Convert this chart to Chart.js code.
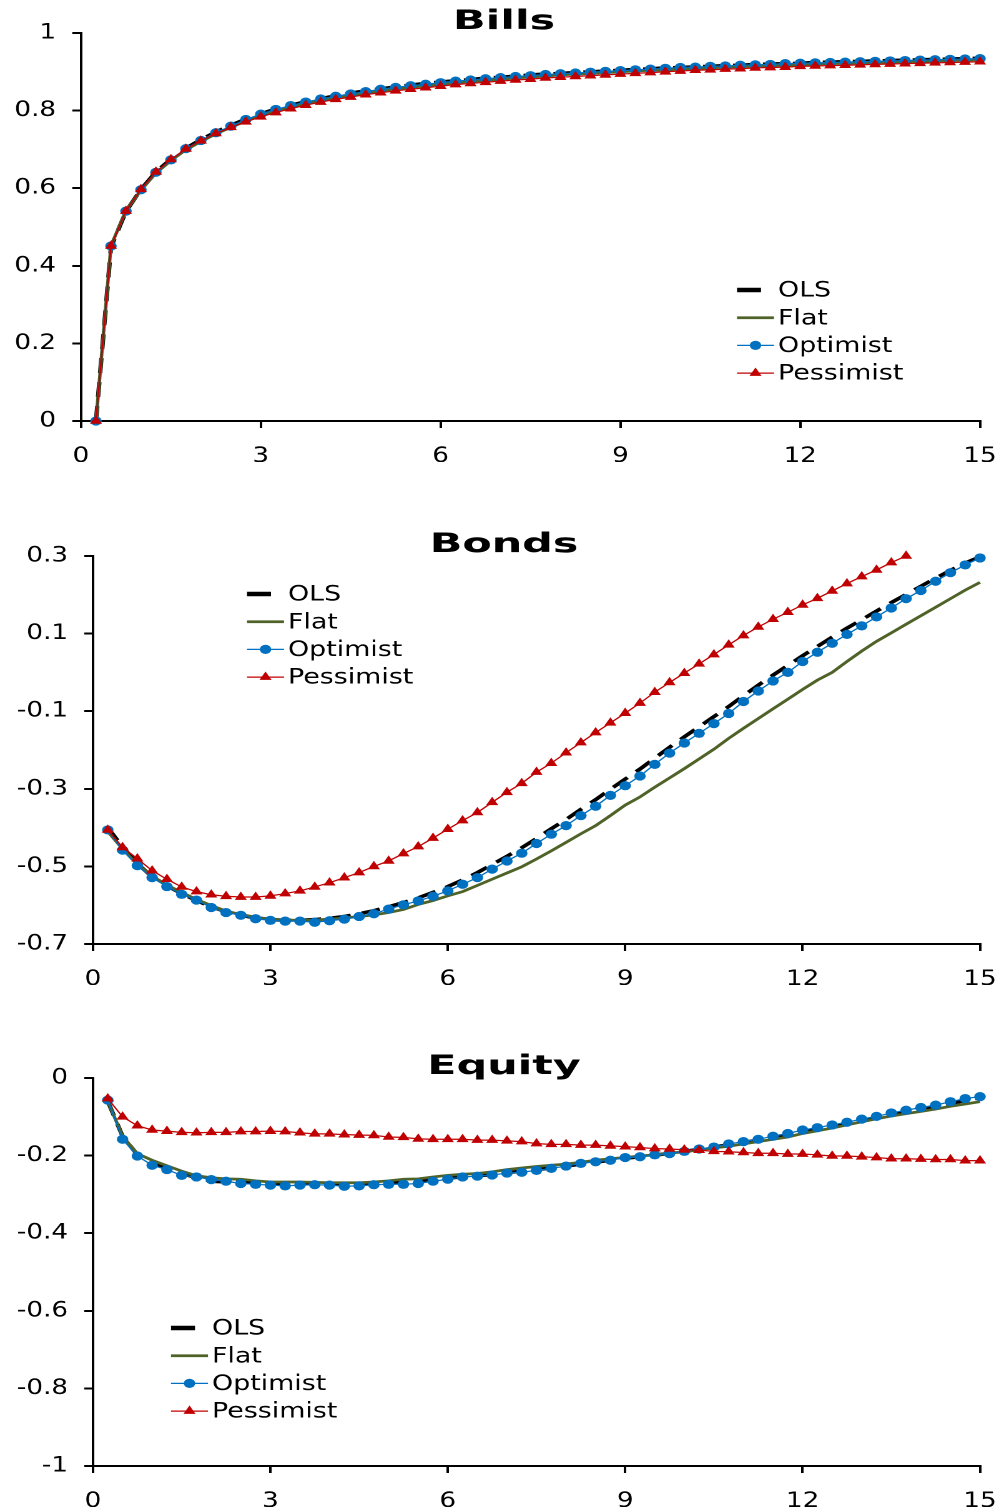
<!DOCTYPE html>
<html>
<head>
<meta charset="utf-8">
<script src="https://cdn.jsdelivr.net/npm/chart.js@4.4.1/dist/chart.umd.min.js"></script>
<style>
  html, body { margin: 0; padding: 0; background: #fff; overflow: hidden; width: 999px; height: 1512px; }
  .panel { position: absolute; left: 0; width: 800px; height: 462px; transform: scaleX(1.24875); transform-origin: 0 0; }
</style>
</head>
<body>
<div class="panel" style="top:0px"><canvas id="bills" width="800" height="462"></canvas></div>
<div class="panel" style="top:523px"><canvas id="bonds" width="800" height="462"></canvas></div>
<div class="panel" style="top:1045px"><canvas id="equity" width="800" height="462"></canvas></div>
<script>
// Horizon in years (quarterly steps)
const horizons = [0.25, 0.5, 0.75, 1, 1.25, 1.5, 1.75, 2, 2.25, 2.5, 2.75, 3,
  3.25, 3.5, 3.75, 4, 4.25, 4.5, 4.75, 5, 5.25, 5.5, 5.75, 6,
  6.25, 6.5, 6.75, 7, 7.25, 7.5, 7.75, 8, 8.25, 8.5, 8.75, 9,
  9.25, 9.5, 9.75, 10, 10.25, 10.5, 10.75, 11, 11.25, 11.5, 11.75, 12,
  12.25, 12.5, 12.75, 13, 13.25, 13.5, 13.75, 14, 14.25, 14.5, 14.75, 15];

const xTicks = [0, 3, 6, 9, 12, 15];
const billsTicks = [0, 0.2, 0.4, 0.6, 0.8, 1];
const bondsTicks = [-0.7, -0.5, -0.3, -0.1, 0.1, 0.3];
const equityTicks = [-1, -0.8, -0.6, -0.4, -0.2, 0];

// Bills
const billsOLS = [0, 0.448, 0.540, 0.597, 0.642, 0.675, 0.703, 0.725, 0.745, 0.762, 0.778, 0.792,
  0.804, 0.814, 0.823, 0.831, 0.838, 0.845, 0.851, 0.856, 0.861, 0.866, 0.870, 0.874,
  0.877, 0.880, 0.884, 0.886, 0.889, 0.892, 0.894, 0.896, 0.898, 0.900, 0.902, 0.904,
  0.906, 0.908, 0.910, 0.911, 0.913, 0.914, 0.916, 0.917, 0.919, 0.920, 0.921, 0.922,
  0.924, 0.925, 0.926, 0.927, 0.928, 0.929, 0.930, 0.931, 0.932, 0.933, 0.934, 0.935];
const billsFlat = [0, 0.452, 0.542, 0.595, 0.639, 0.671, 0.699, 0.720, 0.740, 0.757, 0.773, 0.787,
  0.799, 0.809, 0.818, 0.826, 0.833, 0.839, 0.845, 0.851, 0.856, 0.860, 0.864, 0.868,
  0.872, 0.875, 0.878, 0.881, 0.884, 0.887, 0.889, 0.892, 0.894, 0.896, 0.898, 0.900,
  0.902, 0.904, 0.905, 0.907, 0.909, 0.910, 0.912, 0.913, 0.915, 0.916, 0.917, 0.918,
  0.920, 0.921, 0.922, 0.923, 0.924, 0.925, 0.926, 0.927, 0.928, 0.929, 0.930, 0.931];
const billsOptimist = [0, 0.451, 0.541, 0.596, 0.641, 0.673, 0.702, 0.723, 0.743, 0.760, 0.777, 0.791,
  0.803, 0.813, 0.822, 0.830, 0.837, 0.843, 0.849, 0.855, 0.860, 0.864, 0.868, 0.872,
  0.876, 0.879, 0.882, 0.885, 0.888, 0.890, 0.893, 0.895, 0.897, 0.899, 0.901, 0.903,
  0.905, 0.907, 0.909, 0.911, 0.912, 0.914, 0.915, 0.917, 0.918, 0.919, 0.921, 0.922,
  0.923, 0.924, 0.925, 0.926, 0.927, 0.928, 0.929, 0.930, 0.931, 0.932, 0.933, 0.934];
const billsPessimist = [0, 0.451, 0.541, 0.597, 0.642, 0.674, 0.701, 0.722, 0.741, 0.757, 0.771, 0.784,
  0.795, 0.805, 0.814, 0.822, 0.829, 0.835, 0.841, 0.846, 0.851, 0.855, 0.859, 0.863,
  0.867, 0.870, 0.873, 0.876, 0.879, 0.881, 0.884, 0.886, 0.888, 0.890, 0.892, 0.894,
  0.896, 0.898, 0.900, 0.902, 0.904, 0.905, 0.907, 0.908, 0.910, 0.911, 0.912, 0.914,
  0.915, 0.916, 0.917, 0.918, 0.919, 0.920, 0.921, 0.922, 0.923, 0.924, 0.925, 0.926];

// Bonds
const bondsOLS = [-0.400, -0.450, -0.493, -0.527, -0.550, -0.570, -0.588, -0.604, -0.617, -0.626, -0.633, -0.637,
  -0.639, -0.639, -0.637, -0.634, -0.629, -0.622, -0.614, -0.604, -0.593, -0.581, -0.567, -0.552,
  -0.535, -0.516, -0.495, -0.474, -0.452, -0.428, -0.403, -0.379, -0.353, -0.328, -0.301, -0.275,
  -0.249, -0.221, -0.193, -0.166, -0.140, -0.114, -0.088, -0.060, -0.033, -0.007, 0.018, 0.043,
  0.067, 0.091, 0.114, 0.136, 0.158, 0.180, 0.201, 0.222, 0.243, 0.263, 0.282, 0.298];
const bondsFlat = [-0.410, -0.455, -0.495, -0.525, -0.548, -0.567, -0.585, -0.601, -0.615, -0.624, -0.631, -0.636,
  -0.638, -0.639, -0.638, -0.636, -0.633, -0.629, -0.625, -0.619, -0.611, -0.598, -0.588, -0.576,
  -0.565, -0.549, -0.533, -0.517, -0.501, -0.481, -0.460, -0.438, -0.416, -0.395, -0.369, -0.342,
  -0.321, -0.296, -0.272, -0.248, -0.223, -0.198, -0.170, -0.144, -0.119, -0.094, -0.069, -0.044,
  -0.020, 0.000, 0.028, 0.055, 0.080, 0.102, 0.124, 0.146, 0.168, 0.190, 0.212, 0.232];
const bondsOptimist = [-0.406, -0.458, -0.498, -0.529, -0.552, -0.572, -0.587, -0.606, -0.619, -0.626, -0.635, -0.639,
  -0.641, -0.641, -0.644, -0.640, -0.636, -0.629, -0.622, -0.610, -0.599, -0.589, -0.577, -0.563,
  -0.546, -0.529, -0.507, -0.486, -0.466, -0.441, -0.417, -0.395, -0.369, -0.345, -0.317, -0.292,
  -0.267, -0.237, -0.208, -0.182, -0.157, -0.132, -0.106, -0.075, -0.048, -0.022, 0.000, 0.028,
  0.052, 0.075, 0.098, 0.120, 0.143, 0.166, 0.190, 0.211, 0.235, 0.257, 0.277, 0.295];
const bondsPessimist = [-0.406, -0.451, -0.480, -0.511, -0.533, -0.553, -0.565, -0.573, -0.577, -0.579, -0.579, -0.576,
  -0.570, -0.563, -0.553, -0.542, -0.529, -0.516, -0.500, -0.486, -0.467, -0.449, -0.427, -0.404,
  -0.382, -0.361, -0.335, -0.309, -0.286, -0.257, -0.234, -0.207, -0.181, -0.155, -0.130, -0.105,
  -0.079, -0.051, -0.026, -0.002, 0.022, 0.046, 0.071, 0.095, 0.117, 0.137, 0.155, 0.174,
  0.191, 0.210, 0.229, 0.247, 0.264, 0.283, 0.300];

// Equity
const equityOLS = [-0.060, -0.150, -0.198, -0.218, -0.232, -0.247, -0.256, -0.266, -0.268, -0.268, -0.270, -0.271,
  -0.272, -0.272, -0.273, -0.273, -0.273, -0.273, -0.271, -0.270, -0.267, -0.265, -0.261, -0.258,
  -0.255, -0.252, -0.249, -0.244, -0.240, -0.236, -0.232, -0.227, -0.222, -0.217, -0.212, -0.207,
  -0.203, -0.199, -0.194, -0.189, -0.184, -0.178, -0.172, -0.166, -0.160, -0.153, -0.146, -0.139,
  -0.132, -0.125, -0.118, -0.110, -0.103, -0.095, -0.088, -0.081, -0.074, -0.066, -0.058, -0.051];
const equityFlat = [-0.060, -0.150, -0.195, -0.212, -0.226, -0.240, -0.252, -0.257, -0.260, -0.261, -0.265, -0.268,
  -0.268, -0.268, -0.269, -0.270, -0.270, -0.270, -0.268, -0.265, -0.261, -0.260, -0.255, -0.251,
  -0.248, -0.246, -0.242, -0.236, -0.232, -0.228, -0.225, -0.222, -0.217, -0.212, -0.208, -0.205,
  -0.201, -0.198, -0.194, -0.190, -0.185, -0.180, -0.176, -0.170, -0.164, -0.158, -0.152, -0.143,
  -0.136, -0.129, -0.121, -0.113, -0.105, -0.098, -0.092, -0.086, -0.080, -0.073, -0.067, -0.061];
const equityOptimist = [-0.057, -0.158, -0.201, -0.225, -0.236, -0.251, -0.255, -0.262, -0.266, -0.272, -0.274, -0.276,
  -0.278, -0.276, -0.275, -0.276, -0.279, -0.278, -0.275, -0.274, -0.274, -0.272, -0.266, -0.261,
  -0.255, -0.253, -0.250, -0.245, -0.243, -0.238, -0.233, -0.227, -0.220, -0.216, -0.212, -0.205,
  -0.203, -0.198, -0.195, -0.189, -0.183, -0.178, -0.170, -0.164, -0.158, -0.150, -0.143, -0.134,
  -0.128, -0.121, -0.114, -0.106, -0.099, -0.090, -0.083, -0.076, -0.070, -0.061, -0.053, -0.048];
const equityPessimist = [-0.053, -0.100, -0.123, -0.134, -0.137, -0.140, -0.141, -0.140, -0.140, -0.138, -0.138, -0.137,
  -0.138, -0.141, -0.144, -0.144, -0.146, -0.147, -0.148, -0.152, -0.153, -0.157, -0.158, -0.158,
  -0.158, -0.160, -0.160, -0.162, -0.164, -0.169, -0.171, -0.171, -0.173, -0.173, -0.175, -0.177,
  -0.179, -0.182, -0.183, -0.185, -0.186, -0.189, -0.190, -0.192, -0.194, -0.194, -0.196, -0.196,
  -0.198, -0.201, -0.201, -0.203, -0.205, -0.208, -0.208, -0.209, -0.210, -0.210, -0.213, -0.213];

const seriesNames = ['OLS', 'Flat', 'Optimist', 'Pessimist'];

const FONT = '"DejaVu Sans", Verdana, sans-serif';
const STRETCH = 1.24875;           // horizontal scale applied to each panel
const toInner = px => px / STRETCH;

// Bold panel heading, widened horizontally
const panelTitle = {
  id: 'panelTitle',
  afterDraw(chart, args, opts) {
    const { ctx, chartArea } = chart;
    ctx.save();
    ctx.font = `bold ${opts.size}px ${FONT}`;
    ctx.fillStyle = '#000';
    ctx.textAlign = 'center';
    ctx.textBaseline = 'alphabetic';
    ctx.translate(opts.x, chartArea.top + opts.dy);
    ctx.scale(opts.widen, 1);
    ctx.fillText(opts.text, 0, 0);
    ctx.restore();
  }
};

// Legend box placed inside the plot area
const insetLegend = {
  id: 'insetLegend',
  afterDraw(chart, args, opts) {
    const ctx = chart.ctx;
    ctx.save();
    ctx.font = `${opts.fontSize}px ${FONT}`;
    ctx.textBaseline = 'middle';
    ctx.textAlign = 'left';
    chart.data.datasets.forEach((ds, i) => {
      const y = opts.y + i * opts.rowH;
      const x0 = opts.x;
      const x1 = opts.x + opts.sampleLen;
      ctx.strokeStyle = ds.borderColor;
      ctx.setLineDash([]);
      ctx.lineCap = 'butt';
      ctx.beginPath();
      if (ds.borderDash && ds.borderDash.length) {
        ctx.lineWidth = opts.dashWidth;
        ctx.moveTo(x0, y);
        ctx.lineTo(x0 + opts.dashLen, y);
      } else {
        ctx.lineWidth = ds.borderWidth;
        ctx.moveTo(x0, y);
        ctx.lineTo(x1, y);
      }
      ctx.stroke();
      if (ds.pointRadius > 0) {
        ctx.fillStyle = ds.pointBackgroundColor;
        Chart.helpers.drawPoint(ctx, {
          pointStyle: ds.pointStyle, rotation: 0, radius: ds.pointRadius, borderWidth: 0
        }, (x0 + x1) / 2, y);
      }
      ctx.fillStyle = '#000';
      ctx.fillText(ds.label, x1 + opts.gap, y + 1);
    });
    ctx.restore();
  }
};

function pts(values) {
  return values.map((v, i) => ({ x: horizons[i], y: v }));
}

function makePanel(id, title, values, yMin, yMax, yTicks, plotLeftPx, legendAt) {
  const styles = [
    { borderColor: '#000000', borderWidth: 3.5, borderDash: [15, 9], pointRadius: 0, order: 3 },
    { borderColor: '#4f6228', borderWidth: 2.75, pointRadius: 0, order: 2 },
    { borderColor: '#0070c0', borderWidth: 1.25, pointRadius: 4.6, pointStyle: 'circle',
      pointBackgroundColor: '#0070c0', pointBorderWidth: 0, order: 1 },
    { borderColor: '#c00000', borderWidth: 1.25, pointRadius: 5.6, pointStyle: 'triangle',
      pointBackgroundColor: '#c00000', pointBorderWidth: 0, order: 0 }
  ];
  const datasets = values.map((v, i) => Object.assign({
    label: seriesNames[i],
    data: pts(v),
    tension: 0,
    fill: false,
    clip: false,
    pointHoverRadius: 0
  }, styles[i]));

  const tickFont = { family: FONT, size: 21 };
  const axisGrid = { display: true, drawOnChartArea: false, drawTicks: true, tickLength: 7, color: '#000', lineWidth: 2 };
  const axisBorder = { display: true, color: '#000', width: 2 };

  new Chart(document.getElementById(id), {
    type: 'line',
    data: { datasets },
    options: {
      responsive: false,
      animation: false,
      devicePixelRatio: 2,
      events: [],
      layout: { padding: { top: 33, right: 800 - toInner(980), bottom: 0, left: 0 } },
      plugins: {
        legend: { display: false },
        tooltip: { enabled: false },
        title: { display: false },
        panelTitle: { text: title, size: 27, widen: 1.27, x: toInner(504), dy: -4 },
        insetLegend: Object.assign({ fontSize: 21.5, rowH: 27.7, sampleLen: toInner(37), dashLen: toInner(24),
          dashWidth: 4.5, gap: toInner(4) }, legendAt)
      },
      scales: {
        x: {
          type: 'linear', min: 0, max: 15,
          afterBuildTicks: s => { s.ticks = xTicks.map(v => ({ value: v })); },
          afterFit: s => { s.height = 41; s.paddingLeft = 0; s.paddingRight = 0; },
          ticks: { font: tickFont, color: '#000', padding: 16, maxRotation: 0, autoSkip: false,
            callback: v => String(v) },
          grid: axisGrid,
          border: axisBorder
        },
        y: {
          type: 'linear', min: yMin, max: yMax,
          afterBuildTicks: s => { s.ticks = yTicks.map(v => ({ value: v })); },
          afterFit: s => { s.width = toInner(plotLeftPx); },
          ticks: { font: tickFont, color: '#000', padding: 13, autoSkip: false,
            callback: v => String(Math.round(v * 10) / 10) },
          grid: axisGrid,
          border: axisBorder
        }
      }
    },
    plugins: [panelTitle, insetLegend]
  });
}

makePanel('bills', 'Bills', [billsOLS, billsFlat, billsOptimist, billsPessimist],
  0, 1, billsTicks, 81, { x: toInner(737), y: 290 });
makePanel('bonds', 'Bonds', [bondsOLS, bondsFlat, bondsOptimist, bondsPessimist],
  -0.7, 0.3, bondsTicks, 93, { x: toInner(247), y: 594 - 523 });
makePanel('equity', 'Equity', [equityOLS, equityFlat, equityOptimist, equityPessimist],
  -1, 0, equityTicks, 93, { x: toInner(171), y: 1328 - 1045 });
</script>
</body>
</html>
